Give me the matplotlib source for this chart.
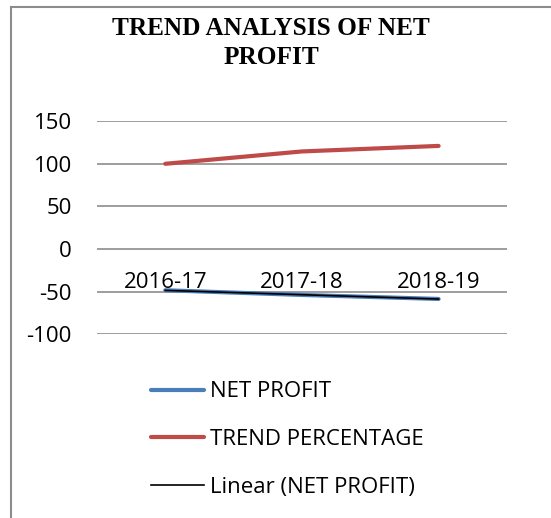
import numpy as np
import matplotlib.pyplot as plt
from matplotlib.lines import Line2D

# data
years = ["2016-17", "2017-18", "2018-19"]
net_profit = [-48.5, -54.0, -58.7]
trend_percentage = [100.0, 114.5, 121.0]
y_ticks = [-100, -50, 0, 50, 100, 150]

BLUE = "#4a7ebb"
RED = "#be4b48"
FONT = "Open Sans"
plt.rcParams["axes.unicode_minus"] = False

fig = plt.figure(figsize=(5.51, 5.18), dpi=100)
ax = fig.add_axes([0.176, 0.355, 0.744, 0.411])

x = np.arange(len(years))
ax.plot(x, net_profit, color=BLUE, lw=3, solid_capstyle="round", label="NET PROFIT")
ax.plot(x, trend_percentage, color=RED, lw=3, solid_capstyle="round", label="TREND PERCENTAGE")

# linear trend line fitted to net profit
slope, intercept = np.polyfit(x, net_profit, 1)
ax.plot(x, slope * x + intercept, color="black", lw=1.2, label="Linear (NET PROFIT)")

ax.set_xlim(-0.5, len(years) - 0.5)
ax.set_ylim(min(y_ticks), max(y_ticks))
ax.set_yticks(y_ticks)
ax.set_xticks(x)
ax.set_xticklabels(years)
ax.yaxis.grid(True, color="#8c8c8c", lw=1.2)
ax.set_axisbelow(True)
for s in ax.spines.values():
    s.set_visible(False)
ax.spines["bottom"].set_position(("data", 0))
ax.tick_params(axis="both", length=0, labelsize=16, labelfontfamily=FONT)
ax.tick_params(axis="x", pad=16.5)
ax.tick_params(axis="y", pad=18)

fig.text(0.492, 0.917, "TREND ANALYSIS OF NET\nPROFIT", ha="center", va="center",
         family="Liberation Serif", weight="bold", fontsize=18.2, linespacing=1.3)

handles, labels = ax.get_legend_handles_labels()
fig.legend(handles, labels, loc="upper left", bbox_to_anchor=(0.254, 0.285),
           frameon=False, borderpad=0, handlelength=2.4, handletextpad=0.25,
           labelspacing=1.2, prop={"family": FONT, "size": 16})

# chart border (top and left edges only visible)
fig.add_artist(Line2D([10.5 / 551, 10.5 / 551], [0, 1 - 6.5 / 518], color="#8c8c8c", lw=1.5))
fig.add_artist(Line2D([10.5 / 551, 1], [1 - 6.5 / 518, 1 - 6.5 / 518], color="#8c8c8c", lw=1.5))

fig.savefig("out.png", dpi=100)
